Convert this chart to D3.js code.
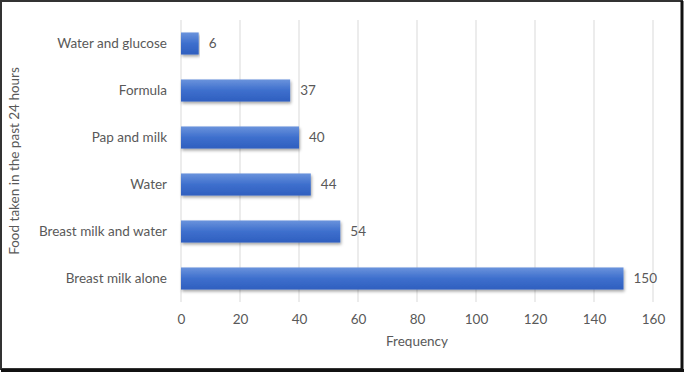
<!DOCTYPE html>
<html>
<head>
<meta charset="utf-8">
<title>Food taken in the past 24 hours</title>
<script src="https://d3js.org/d3.v7.min.js"></script>
<style>
  body { margin: 0; background: #fff; }
  text { font-family: Lato, "Open Sans", sans-serif; fill: #595959; }
</style>
</head>
<body>
<script>
var categories = ["Water and glucose", "Formula", "Pap and milk", "Water", "Breast milk and water", "Breast milk alone"];
var values = [6, 37, 40, 44, 54, 150];
var xTicks = [0, 20, 40, 60, 80, 100, 120, 140, 160];

var data = categories.map(function(c, i) { return {name: c, value: values[i]}; });

var W = 685, H = 373;
var margin = {top: 20, left: 181, right: 32, bottom: 71};
var width = W - margin.left - margin.right;
var height = H - margin.top - margin.bottom;
var fontSize = "13.5px";

var svg = d3.select("body").append("svg")
    .attr("width", W)
    .attr("height", H);

var defs = svg.append("defs");
var grad = defs.append("linearGradient")
    .attr("id", "barGrad")
    .attr("x1", 0).attr("y1", 0).attr("x2", 0).attr("y2", 1);
grad.append("stop").attr("offset", "0%").attr("stop-color", "#6a93dc");
grad.append("stop").attr("offset", "50%").attr("stop-color", "#3e6fcd");
grad.append("stop").attr("offset", "100%").attr("stop-color", "#2f5fbf");

var shadow = defs.append("filter").attr("id", "shadow")
    .attr("x", "-5%").attr("y", "-20%").attr("width", "110%").attr("height", "160%");
shadow.append("feDropShadow")
    .attr("dx", 1).attr("dy", 2).attr("stdDeviation", 1.5)
    .attr("flood-color", "#000").attr("flood-opacity", 0.35);

// frame
svg.append("rect")
    .attr("x", 1).attr("y", 1)
    .attr("width", 681).attr("height", 368)
    .attr("fill", "none")
    .attr("stroke", "#333")
    .attr("stroke-width", 2);
svg.append("line").attr("x1", 682).attr("x2", 682).attr("y1", 1).attr("y2", 372)
    .attr("stroke", "#111").attr("stroke-width", 3);
svg.append("line").attr("x1", 1).attr("x2", 684).attr("y1", 370.5).attr("y2", 370.5)
    .attr("stroke", "#111").attr("stroke-width", 3);

var g = svg.append("g")
    .attr("transform", "translate(" + margin.left + "," + margin.top + ")");

var xScale = d3.scaleLinear()
    .domain([0, 160])
    .range([0, width]);

var yScale = d3.scaleBand()
    .domain(categories)
    .range([0, height])
    .paddingInner(0.53)
    .paddingOuter(0.265);

// grid
g.append("g")
    .attr("class", "grid")
    .selectAll("line")
    .data(xTicks)
    .enter().append("line")
    .attr("x1", function(d) { return xScale(d); })
    .attr("x2", function(d) { return xScale(d); })
    .attr("y1", 0)
    .attr("y2", height)
    .attr("stroke", "#d9d9d9")
    .attr("stroke-width", 1);

// x axis
var xAxis = g.append("g")
    .attr("transform", "translate(0," + height + ")")
    .call(d3.axisBottom(xScale).tickValues(xTicks).tickSize(0).tickPadding(12));
xAxis.select(".domain").remove();
xAxis.selectAll("text")
    .style("font-size", fontSize)
    .style("font-family", "Lato, sans-serif")
    .attr("fill", "#595959");

// y axis
var yAxis = g.append("g")
    .call(d3.axisLeft(yScale).tickSize(0).tickPadding(14));
yAxis.select(".domain").remove();
yAxis.selectAll("text")
    .style("font-size", fontSize)
    .style("font-family", "Lato, sans-serif")
    .attr("fill", "#595959");

// bars
g.selectAll(".bar")
    .data(data)
    .enter().append("rect")
    .attr("class", "bar")
    .attr("x", xScale(0))
    .attr("y", function(d) { return yScale(d.name); })
    .attr("width", function(d) { return xScale(d.value) - xScale(0); })
    .attr("height", yScale.bandwidth())
    .attr("fill", "url(#barGrad)")
    .attr("filter", "url(#shadow)");

// value labels
g.selectAll(".lbl")
    .data(data)
    .enter().append("text")
    .attr("class", "lbl")
    .attr("x", function(d) { return xScale(d.value) + 10; })
    .attr("y", function(d) { return yScale(d.name) + yScale.bandwidth() / 2; })
    .attr("dy", "0.35em")
    .style("font-size", fontSize)
    .attr("fill", "#404040")
    .text(function(d) { return d.value; });

// axis titles
svg.append("text")
    .attr("x", margin.left + width / 2)
    .attr("y", 346)
    .attr("text-anchor", "middle")
    .style("font-size", fontSize)
    .text("Frequency");

svg.append("text")
    .attr("transform", "translate(19," + (margin.top + height / 2) + ") rotate(-90)")
    .attr("text-anchor", "middle")
    .style("font-size", fontSize)
    .text("Food taken in the past 24 hours");
</script>
</body>
</html>
